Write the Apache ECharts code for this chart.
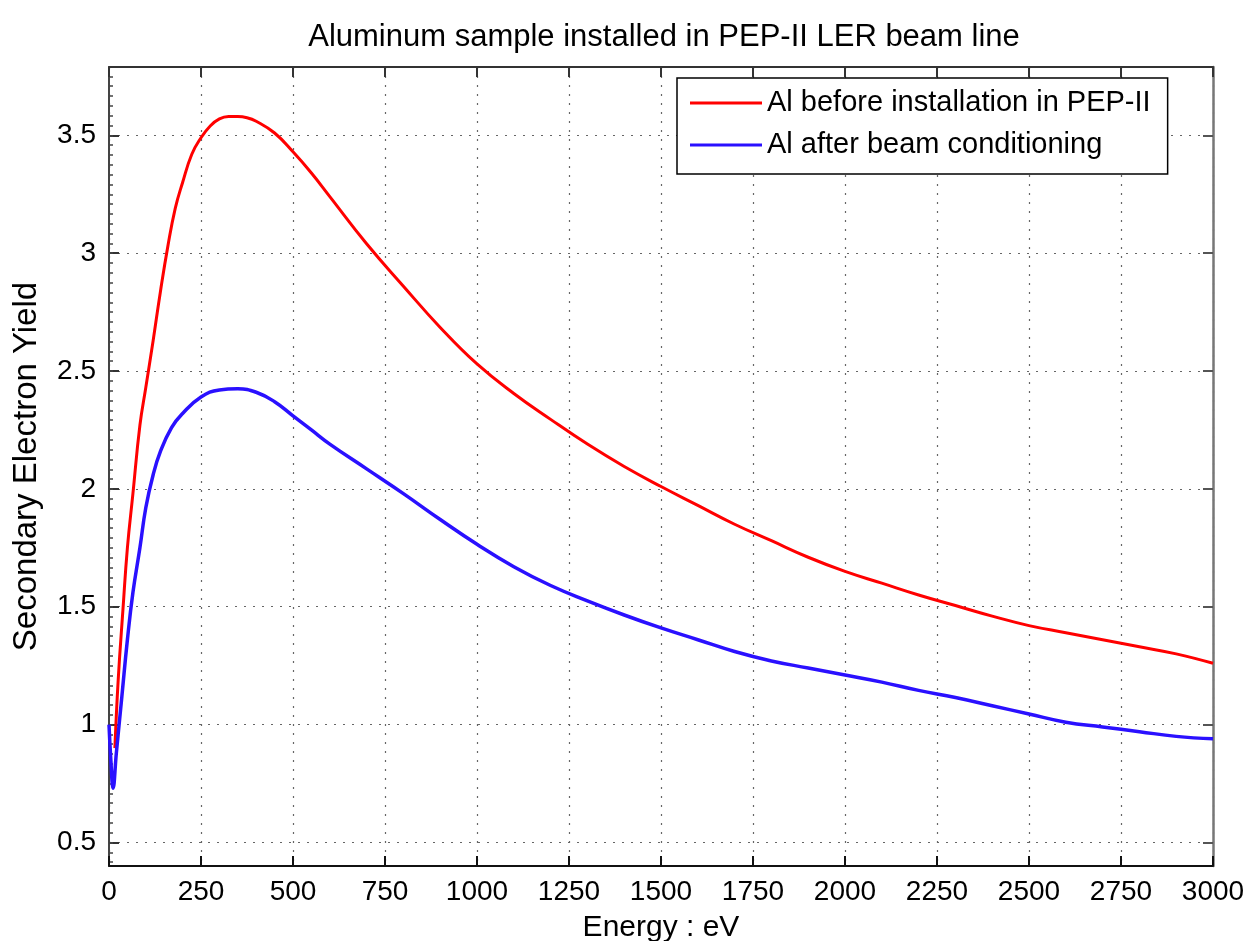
<!DOCTYPE html>
<html>
<head>
<meta charset="utf-8">
<script src="https://cdn.jsdelivr.net/npm/echarts@6/dist/echarts.min.js"></script>
<style>
html,body{margin:0;padding:0;background:#fff;}
#chart{width:1247px;height:941px;}
</style>
</head>
<body>
<div id="chart"></div>
<script>
// ---- data ----
const titleText = 'Aluminum sample installed in PEP-II LER beam line';
const seriesNames = ['Al before installation in PEP-II', 'Al after beam conditioning'];
const xTickLabels = [0, 250, 500, 750, 1000, 1250, 1500, 1750, 2000, 2250, 2500, 2750, 3000];
const yTickLabels = [0.5, 1, 1.5, 2, 2.5, 3, 3.5];

const beforeEnergy = [16, 25, 38, 50, 65, 84, 100, 120, 140, 160, 180, 200, 225, 250, 275, 300, 325, 350, 375, 400, 450, 500, 550, 600, 700, 800, 900, 1000, 1100, 1200, 1300, 1400, 1500, 1600, 1700, 1800, 1900, 2000, 2100, 2200, 2300, 2400, 2500, 2600, 2700, 2800, 2900, 3000];
const beforeYield  = [0.90, 1.19, 1.49, 1.75, 1.98, 2.27, 2.43, 2.63, 2.84, 3.03, 3.19, 3.30, 3.42, 3.49, 3.54, 3.57, 3.58, 3.58, 3.575, 3.56, 3.51, 3.43, 3.34, 3.24, 3.04, 2.86, 2.685, 2.53, 2.405, 2.295, 2.19, 2.095, 2.01, 1.93, 1.85, 1.78, 1.71, 1.65, 1.60, 1.55, 1.505, 1.46, 1.42, 1.39, 1.36, 1.33, 1.30, 1.26];

const afterEnergy = [0, 5, 11, 20, 35, 50, 65, 84, 100, 120, 140, 170, 200, 250, 300, 350, 400, 450, 500, 550, 600, 700, 800, 900, 1000, 1100, 1200, 1300, 1400, 1500, 1600, 1700, 1800, 1900, 2000, 2100, 2200, 2300, 2400, 2500, 2600, 2700, 2800, 2900, 3000];
const afterYield  = [1.00, 0.85, 0.73, 0.88, 1.12, 1.36, 1.56, 1.75, 1.92, 2.06, 2.16, 2.26, 2.32, 2.39, 2.42, 2.425, 2.41, 2.37, 2.31, 2.25, 2.19, 2.085, 1.98, 1.87, 1.765, 1.67, 1.59, 1.525, 1.465, 1.41, 1.36, 1.31, 1.27, 1.24, 1.21, 1.18, 1.145, 1.115, 1.08, 1.045, 1.01, 0.99, 0.97, 0.95, 0.94];

// ---- build ----
const Y_MIN = 0.4, Y_MAX = 3.79;
const minorTicks = [];
for (let k = -2; k <= 81; k++) {
  const v = 0.5 + k * 0.5 / 12;
  if (v >= Y_MIN && v <= Y_MAX) minorTicks.push(+v.toFixed(5));
}
const pairs = (xs, ys) => xs.map((x, i) => [x, ys[i]]);
const font = 'Liberation Sans, Arial, Helvetica, sans-serif';
const gridLine = { show: true, lineStyle: { color: '#666', width: 1.2, type: [2, 7] } };

const chart = echarts.init(document.getElementById('chart'), null, { renderer: 'canvas' });
chart.setOption({
  animation: false,
  backgroundColor: '#fff',
  textStyle: { fontFamily: font },
  title: {
    text: titleText, left: 659, top: 17, textAlign: 'center',
    textStyle: { fontFamily: font, fontSize: 31, fontWeight: 'normal', color: '#000' }
  },
  grid: { left: 109, right: 34, top: 67, bottom: 75, containLabel: false, outerBoundsMode: 'none' },
  legend: {
    orient: 'vertical', left: 677, top: 78,
    padding: [9, 17, 13, 13], itemGap: 10, itemWidth: 72, itemHeight: 14,
    backgroundColor: '#fff', borderColor: '#000', borderWidth: 1.5, borderRadius: 0,
    textStyle: { fontFamily: font, fontSize: 29, color: '#000', lineHeight: 32 },
    data: seriesNames.map(n => ({ name: n, icon: 'path://M0,5.5 L72,5.5 L72,8.5 L0,8.5 Z' }))
  },
  xAxis: [
    {
      type: 'value', min: 0, max: 3000, interval: 250, position: 'bottom',
      name: 'Energy : eV', nameLocation: 'middle', nameGap: 47,
      nameTextStyle: { fontFamily: font, fontSize: 30, color: '#000' },
      axisLine: { show: true, onZero: false, lineStyle: { color: '#111', width: 2 } },
      axisTick: { show: true, inside: true, length: 10, lineStyle: { color: '#111', width: 2 } },
      axisLabel: { show: true, fontFamily: font, fontSize: 28, color: '#000', margin: 12,
        customValues: xTickLabels, formatter: v => String(v) },
      splitLine: gridLine
    },
    {
      type: 'value', min: 0, max: 3000, interval: 250, position: 'top',
      axisLine: { show: true, onZero: false, lineStyle: { color: '#333', width: 2 } },
      axisTick: { show: true, inside: true, length: 10, lineStyle: { color: '#333', width: 2 } },
      axisLabel: { show: false }, splitLine: { show: false }
    }
  ],
  yAxis: [
    {
      type: 'value', min: Y_MIN, max: Y_MAX, position: 'left',
      name: 'Secondary Electron Yield', nameLocation: 'middle', nameGap: 66, nameRotate: 90,
      nameTextStyle: { fontFamily: font, fontSize: 33, color: '#000' },
      axisLine: { show: true, onZero: false, lineStyle: { color: '#444', width: 2 } },
      axisTick: { show: true, inside: true, length: 10, customValues: yTickLabels,
        lineStyle: { color: '#333', width: 2 } },
      axisLabel: { show: true, fontFamily: font, fontSize: 28, color: '#000', margin: 13,
        customValues: yTickLabels, formatter: v => String(v) },
      splitLine: gridLine
    },
    {
      type: 'value', min: Y_MIN, max: Y_MAX, position: 'left',
      axisLine: { show: false },
      axisTick: { show: true, inside: true, length: 4, customValues: minorTicks,
        lineStyle: { color: '#444', width: 1.5 } },
      axisLabel: { show: false }, splitLine: { show: false }
    },
    {
      type: 'value', min: Y_MIN, max: Y_MAX, position: 'right',
      axisLine: { show: true, onZero: false, lineStyle: { color: '#777', width: 2.5 } },
      axisTick: { show: true, inside: true, length: 10, customValues: yTickLabels,
        lineStyle: { color: '#555', width: 2 } },
      axisLabel: { show: false }, splitLine: { show: false }
    }
  ],
  series: [
    {
      name: seriesNames[0], type: 'line', xAxisIndex: 0, yAxisIndex: 0,
      data: pairs(beforeEnergy, beforeYield),
      smooth: 0.45, symbol: 'none',
      lineStyle: { color: '#ff0000', width: 3 }, itemStyle: { color: '#ff0000' }, z: 3
    },
    {
      name: seriesNames[1], type: 'line', xAxisIndex: 0, yAxisIndex: 0,
      data: pairs(afterEnergy, afterYield),
      smooth: 0.45, symbol: 'none',
      lineStyle: { color: '#2a10ff', width: 3.5 }, itemStyle: { color: '#2a10ff' }, z: 4
    }
  ]
});
</script>
</body>
</html>
